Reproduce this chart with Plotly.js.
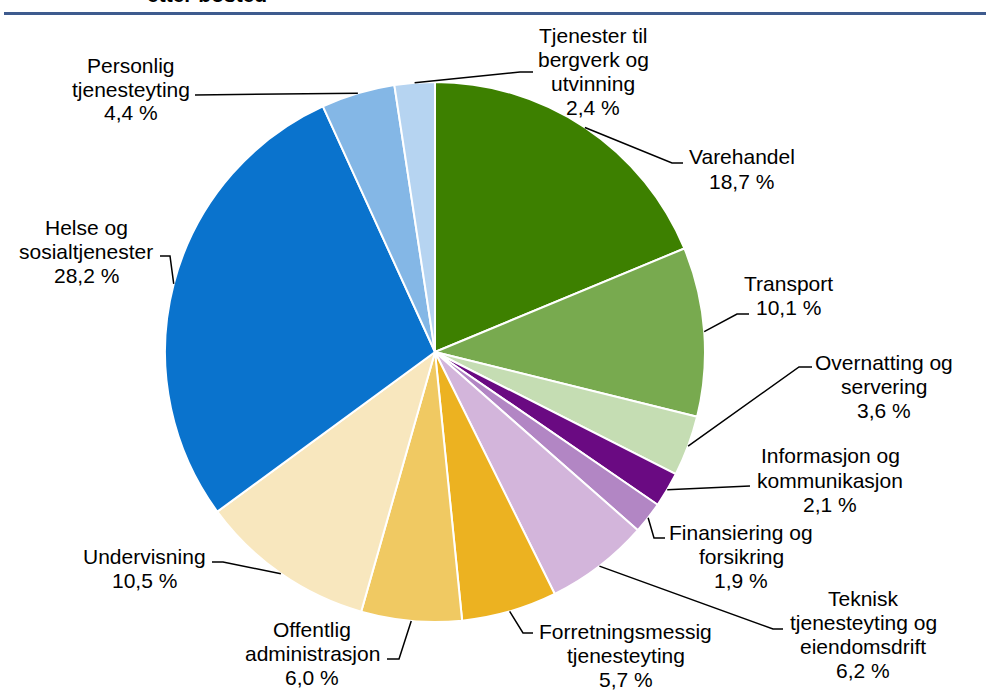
<!DOCTYPE html>
<html>
<head>
<meta charset="utf-8">
<script src="https://cdn.plot.ly/plotly-3.0.1.min.js"></script>
<style>html,body{margin:0;padding:0;background:#fff;}#chart{width:986px;height:697px;}</style>
</head>
<body>
<div id="chart"></div>
<script>
// ---- data ----
var categories = [
  "Varehandel",
  "Transport",
  "Overnatting og servering",
  "Informasjon og kommunikasjon",
  "Finansiering og forsikring",
  "Teknisk tjenesteyting og eiendomsdrift",
  "Forretningsmessig tjenesteyting",
  "Offentlig administrasjon",
  "Undervisning",
  "Helse og sosialtjenester",
  "Personlig tjenesteyting",
  "Tjenester til bergverk og utvinning"
];
var labelLines = [
  ["Varehandel"],
  ["Transport"],
  ["Overnatting og", "servering"],
  ["Informasjon og", "kommunikasjon"],
  ["Finansiering og", "forsikring"],
  ["Teknisk", "tjenesteyting og", "eiendomsdrift"],
  ["Forretningsmessig", "tjenesteyting"],
  ["Offentlig", "administrasjon"],
  ["Undervisning"],
  ["Helse og", "sosialtjenester"],
  ["Personlig", "tjenesteyting"],
  ["Tjenester til", "bergverk og", "utvinning"]
];
var values = [18.7, 10.1, 3.6, 2.1, 1.9, 6.2, 5.7, 6.0, 10.5, 28.2, 4.4, 2.4];
var titleText = "etter bosted";

// ---- styles / layout positions (pixels) ----
var colors = ["#3D8000", "#78AA4F", "#C5DDB3", "#6A0A82", "#B286C4", "#D3B5DB",
              "#ECB221", "#F0C962", "#F8E7BE", "#0A73CD", "#84B7E6", "#B6D4F1"];
var W = 986, H = 697;
var CX = 435, CY = 352, R = 270;
var labelCX = [741.5, 788, 884, 830, 741, 863, 625.5, 312, 144, 86, 131, 593];
var labelB1 = [164, 290, 369, 463, 539, 605, 638, 636, 563, 234, 72, 43];
var elbows = [
  [[672,163],[683,163]],
  [[737,314],[749,314]],
  [[799,367],[812,367]],
  [[750,486]],
  [[654,538],[665,538]],
  [[773,629],[783,629]],
  [[523,633],[533,633]],
  [[399,659],[387,659]],
  [[223,562],[212,562]],
  [[170,256],[160,256]],
  [[195,95]],
  [[520,72],[533,72]]
];
var LINE = 24, FS = 21, BASE_OFF = 7;
var FONT = '"Liberation Sans", Arial, sans-serif';

function px(x){ return x / W; }
function py(y){ return 1 - y / H; }

var total = values.reduce(function(a,b){return a+b;}, 0);
var annotations = [];
var shapes = [];
var cum = 0;
for (var i = 0; i < values.length; i++) {
  var mid = (cum + values[i] / 2) / total;
  cum += values[i];
  var ang = mid * 2 * Math.PI;
  var sx = CX + R * Math.sin(ang), sy = CY - R * Math.cos(ang);
  var d = "M" + px(sx) + "," + py(sy);
  elbows[i].forEach(function(p){ d += " L" + px(p[0]) + "," + py(p[1]); });
  shapes.push({type: "path", xref: "paper", yref: "paper", path: d,
               line: {color: "#000", width: 1.5}});
  var lines = labelLines[i].concat([values[i].toFixed(1).replace(".", ",") + " %"]);
  for (var k = 0; k < lines.length; k++) {
    annotations.push({
      xref: "paper", yref: "paper", showarrow: false,
      x: px(labelCX[i]), y: py(labelB1[i] + k * LINE - BASE_OFF),
      xanchor: "center", yanchor: "middle",
      text: lines[k], font: {family: FONT, size: FS, color: "#000"}
    });
  }
}
annotations.push({
  xref: "paper", yref: "paper", showarrow: false,
  x: px(145), y: py(1.5 - BASE_OFF), xanchor: "left", yanchor: "middle",
  text: "<b>" + titleText + "</b>", font: {family: FONT, size: FS, color: "#000"}
});
shapes.push({type: "line", xref: "paper", yref: "paper",
  x0: px(4), x1: 1, y0: py(13.5), y1: py(13.5),
  line: {color: "#3E5B8E", width: 3}});

var trace = {
  type: "pie",
  labels: categories,
  values: values,
  sort: false,
  direction: "clockwise",
  rotation: 0,
  textinfo: "none",
  hoverinfo: "label+percent",
  marker: {colors: colors, line: {color: "#fff", width: 2}},
  domain: {x: [px(CX - R), px(CX + R)], y: [py(CY + R), py(CY - R)]}
};

var layout = {
  width: W, height: H,
  margin: {l: 0, r: 0, t: 0, b: 0},
  showlegend: false,
  paper_bgcolor: "#fff",
  annotations: annotations,
  shapes: shapes
};

Plotly.newPlot("chart", [trace], layout, {displayModeBar: false, staticPlot: true});
</script>
</body>
</html>
